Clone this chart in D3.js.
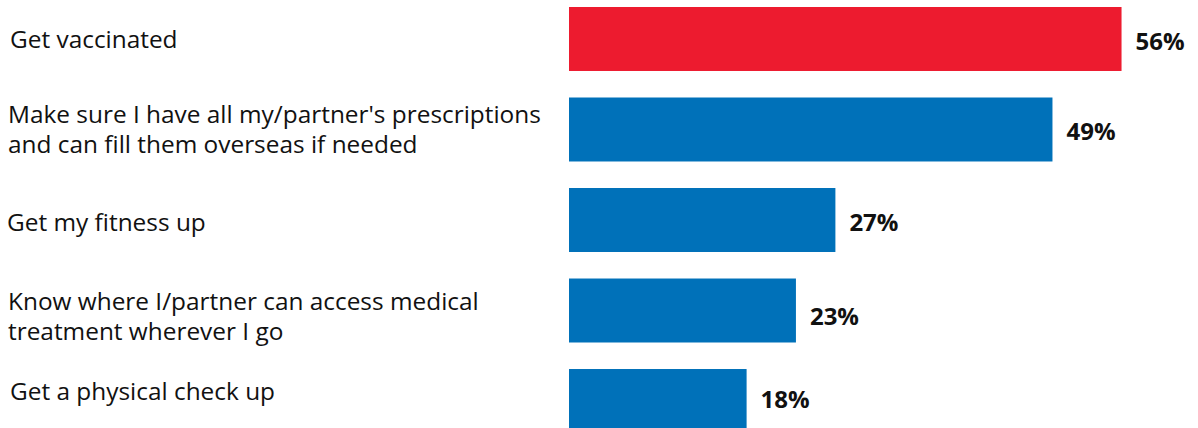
<!DOCTYPE html>
<html>
<head>
<meta charset="utf-8">
<script src="https://cdn.jsdelivr.net/npm/d3@7"></script>
<style>
  html, body { margin: 0; padding: 0; background: #ffffff; overflow: hidden; }
  svg { display: block; }
</style>
</head>
<body>
<svg id="chart" width="1198" height="428"></svg>
<script>
// Health preparations before travelling (share of respondents, %)
const categories = [
  ["Get vaccinated"],
  ["Make sure I have all my/partner's prescriptions", "and can fill them overseas if needed"],
  ["Get my fitness up"],
  ["Know where I/partner can access medical", "treatment wherever I go"],
  ["Get a physical check up"]
];
const values = [56, 49, 27, 23, 18];
const highlight = [true, false, false, false, false];

// hand-set label placement per row (left indent, vertical nudges in px)
const labelIndent = [10, 8, 7, 8, 10];
const labelNudge = [-1, 0, 0.5, 5, -11];
const valueNudge = [0, -0.5, 0, 3.5, -4.5];

const W = 1198, H = 428;
const svg = d3.select("#chart");

const ids = d3.range(values.length);

const x = d3.scaleLinear().domain([0, 60]).range([569, 1161]);
const y = d3.scaleBand().domain(ids).range([7, 433]).paddingInner(0.293).paddingOuter(0);
const mid = i => y(i) + y.bandwidth() / 2;

// bars
svg.selectAll("rect.bar")
  .data(ids)
  .join("rect")
  .attr("class", "bar")
  .attr("x", x(0))
  .attr("y", i => y(i))
  .attr("width", i => x(values[i]) - x(0))
  .attr("height", y.bandwidth())
  .attr("fill", i => highlight[i] ? "#ED1B2F" : "#0071B9");

// category labels (one or two lines, centred on the bar)
const lineH = 30;
svg.selectAll("text.cat")
  .data(ids)
  .join("text")
  .attr("class", "cat")
  .attr("font-family", "'Open Sans', sans-serif")
  .attr("font-size", 24.4)
  .attr("fill", "#111111")
  .each(function(i) {
    const lines = categories[i];
    const first = mid(i) - (lines.length - 1) * lineH / 2 + labelNudge[i];
    d3.select(this).selectAll("tspan")
      .data(lines)
      .join("tspan")
      .attr("x", labelIndent[i])
      .attr("y", (d, k) => first + k * lineH + (lines.length > 1 ? 9 : 10))
      .text(d => d);
  });

// value labels
svg.selectAll("text.val")
  .data(ids)
  .join("text")
  .attr("class", "val")
  .attr("x", i => x(values[i]) + 14)
  .attr("y", i => mid(i) + 11 + valueNudge[i])
  .attr("font-family", "'Open Sans', sans-serif")
  .attr("font-weight", 700)
  .attr("font-size", 24)
  .attr("fill", "#111111")
  .text(i => values[i] + "%");
</script>
</body>
</html>
